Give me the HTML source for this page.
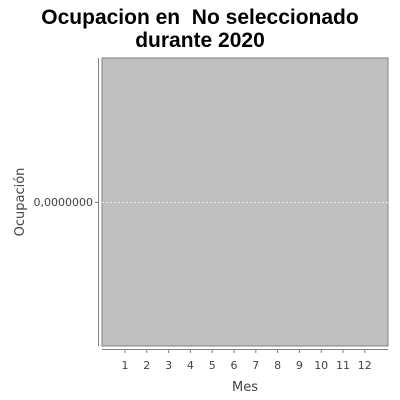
<!DOCTYPE html>
<html><head><meta charset="utf-8"><style>
body{margin:0;background:#fff;}
svg{display:block;font-family:"DejaVu Sans","Liberation Sans",sans-serif;}
</style></head><body>
<svg width="400" height="400">
<text x="200" y="24" text-anchor="middle" font-size="21" font-weight="bold" font-family="Liberation Sans, sans-serif" style="white-space:pre">Ocupacion en&#160; No seleccionado</text>
<text x="200" y="47" text-anchor="middle" font-size="21" font-weight="bold" font-family="Liberation Sans, sans-serif">durante 2020</text>
<rect x="102" y="58" width="286" height="288" fill="#c0c0c0" stroke="#808080" stroke-width="1"/>
<line x1="98.5" y1="58" x2="98.5" y2="346" stroke="#808080"/>
<line x1="102" y1="349.5" x2="388" y2="349.5" stroke="#808080"/>
<g id="xt"></g><g id="yt"></g>
<text x="245" y="391" text-anchor="middle" font-size="13" fill="#444">Mes</text>
<text transform="translate(24,202) rotate(-90)" text-anchor="middle" font-size="13" fill="#444">Ocupación</text>
</svg>
<script>
const months=["1","2","3","4","5","6","7","8","9","10","11","12"];
const yTicks=[0];
const yTickLabels=["0,0000000"];
const NS="http://www.w3.org/2000/svg";
function xPos(i){return 125+i*21.8;}
function yPos(v){return 202-v*100;}
const xt=document.getElementById('xt');
months.forEach((m,i)=>{
 const l=document.createElementNS(NS,'line');
 l.setAttribute('x1',xPos(i));l.setAttribute('x2',xPos(i));l.setAttribute('y1',350);l.setAttribute('y2',353);l.setAttribute('stroke','#808080');
 
 
 xt.appendChild(l);
 const t=document.createElementNS(NS,'text');
 t.setAttribute('x',xPos(i));t.setAttribute('y',369);t.setAttribute('text-anchor','middle');t.setAttribute('font-size','11');t.setAttribute('fill','#444');
 t.textContent=m;
 
 
 xt.appendChild(t);
});
const yt=document.getElementById('yt');
yTicks.forEach((v,i)=>{
 const g=document.createElementNS(NS,'line');
 g.setAttribute('x1',102);g.setAttribute('x2',388);g.setAttribute('y1',yPos(v)+0.5);g.setAttribute('y2',yPos(v)+0.5);g.setAttribute('stroke','#e8e8e8');g.setAttribute('stroke-dasharray','2,2');
 
 
 yt.appendChild(g);
 const tk=document.createElementNS(NS,'line');
 tk.setAttribute('x1',95);tk.setAttribute('x2',98);tk.setAttribute('y1',yPos(v)+0.5);tk.setAttribute('y2',yPos(v)+0.5);tk.setAttribute('stroke','#808080');
 
 
 yt.appendChild(tk);
 const t=document.createElementNS(NS,'text');
 t.setAttribute('x',93);t.setAttribute('y',yPos(v)+4);t.setAttribute('text-anchor','end');t.setAttribute('font-size','11');t.setAttribute('fill','#444');
 t.textContent=yTickLabels[i];
 
 
 yt.appendChild(t);
});
</script>
</body></html>
